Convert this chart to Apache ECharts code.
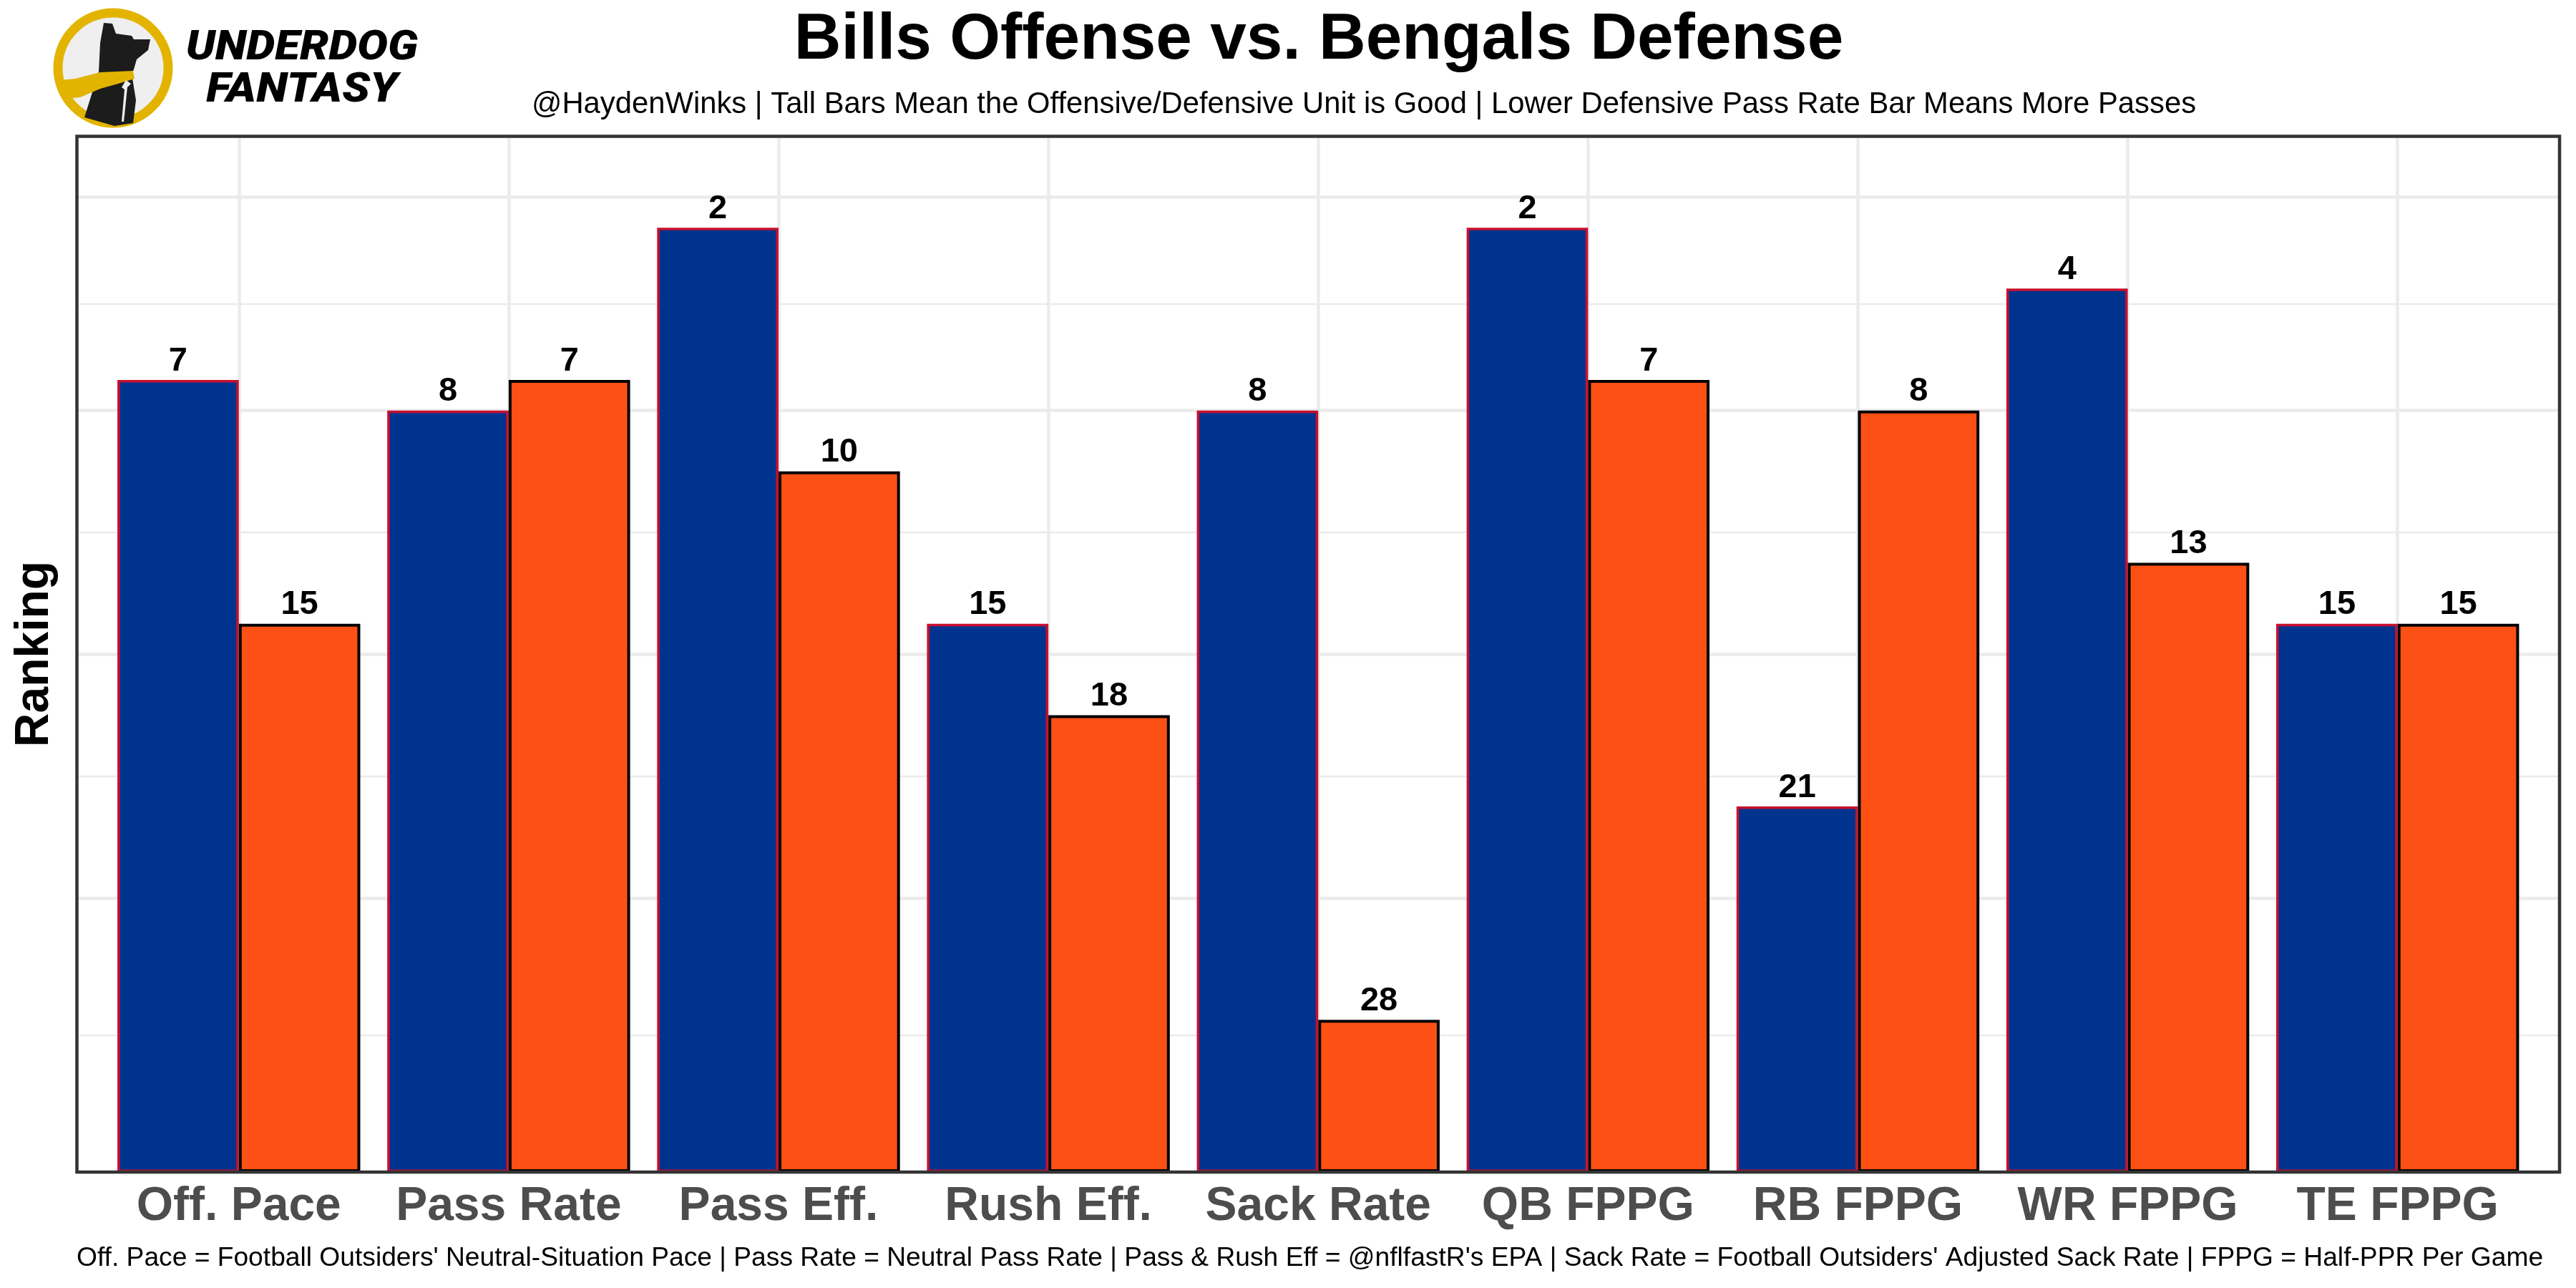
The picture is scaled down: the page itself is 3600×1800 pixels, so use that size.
<!DOCTYPE html>
<html>
<head>
<meta charset="utf-8">
<script src="https://cdn.jsdelivr.net/npm/echarts@6/dist/echarts.min.js"></script>
<style>
  html, body { margin: 0; padding: 0; background: #ffffff; }
  #chart { width: 3600px; height: 1800px; }
</style>
</head>
<body>
<div id="chart"></div>
<script>
// ---- data ----
const categories = ['Off. Pace', 'Pass Rate', 'Pass Eff.', 'Rush Eff.', 'Sack Rate', 'QB FPPG', 'RB FPPG', 'WR FPPG', 'TE FPPG'];
const offenseRank = [7, 8, 2, 15, 8, 2, 21, 4, 15];   // Bills offense
const defenseRank = [15, 7, 10, 18, 28, 7, 8, 13, 15]; // Bengals defense
const rankBase = 33;            // bar height = rankBase - rank (rank 1 = tallest)
const majorGridValues = [9, 17, 25, 32];
const minorGridValues = [4.5, 13, 21, 28.5];

const titleText = 'Bills Offense vs. Bengals Defense';
const subtitleText = '@HaydenWinks | Tall Bars Mean the Offensive/Defensive Unit is Good | Lower Defensive Pass Rate Bar Means More Passes';
const captionText = "Off. Pace = Football Outsiders' Neutral-Situation Pace | Pass Rate = Neutral Pass Rate | Pass & Rush Eff = @nflfastR's EPA | Sack Rate = Football Outsiders' Adjusted Sack Rate | FPPG = Half-PPR Per Game";
const yName = 'Ranking';

const FONT = "'Liberation Sans', Arial, Helvetica, sans-serif";

const chart = echarts.init(document.getElementById('chart'), null, { renderer: 'canvas' });

const plot = { left: 107.5, top: 190.5, right: 3577, bottom: 1638 };
const pad = 0.1; // extra category units each side
const nCat = categories.length;
const band = (plot.right - plot.left) / (nCat + 2 * pad);

const gridMarks = []
  .concat(majorGridValues.map(v => ({ yAxis: v, lineStyle: { width: 4.5 } })))
  .concat(minorGridValues.map(v => ({ yAxis: v, lineStyle: { width: 2.3 } })))
  .concat(categories.map((c, i) => ({ xAxis: i + 1, lineStyle: { width: 4.5 } })));

const barLabel = ranks => ({
  show: true, position: 'top', distance: 3, color: '#000', fontFamily: FONT, fontWeight: 'bold', fontSize: 47,
  formatter: p => String(ranks[p.dataIndex])
});

const option = {
  animation: false,
  backgroundColor: '#ffffff',
  grid: [
    { left: plot.left, top: plot.top, width: plot.right - plot.left, height: plot.bottom - plot.top, show: false },
    { left: plot.left + band * pad, top: plot.top, width: band * nCat, height: plot.bottom - plot.top, show: false }
  ],
  xAxis: [
    { type: 'value', gridIndex: 0, min: 1 - 0.5 - pad, max: nCat + 0.5 + pad, show: false },
    {
      type: 'category', gridIndex: 1, data: categories,
      axisLine: { show: false }, axisTick: { show: false }, splitLine: { show: false },
      axisLabel: { color: '#4D4D4D', fontFamily: FONT, fontWeight: 'bold', fontSize: 66, margin: 16, interval: 0 }
    }
  ],
  yAxis: [
    { type: 'value', gridIndex: 0, min: 0, max: 34, show: false },
    { type: 'value', gridIndex: 1, min: 0, max: 34, show: false }
  ],
  series: [
    {
      type: 'line', xAxisIndex: 0, yAxisIndex: 0, data: [], silent: true,
      markLine: {
        z: 1, silent: true, symbol: ['none', 'none'], label: { show: false }, animation: false,
        lineStyle: { color: '#EBEBEB', type: 'solid' },
        emphasis: { disabled: true },
        data: gridMarks
      }
    },
    {
      name: 'Bills Offense', type: 'bar', xAxisIndex: 1, yAxisIndex: 1, z: 3,
      barGap: '0%', barCategoryGap: '10%',
      data: offenseRank.map(r => rankBase - r),
      itemStyle: { color: '#00338D', borderColor: '#C8102E', borderWidth: 3.5 },
      label: barLabel(offenseRank)
    },
    {
      name: 'Bengals Defense', type: 'bar', xAxisIndex: 1, yAxisIndex: 1, z: 3,
      barGap: '0%', barCategoryGap: '10%',
      data: defenseRank.map(r => rankBase - r),
      itemStyle: { color: '#FC5015', borderColor: '#000000', borderWidth: 4 },
      label: barLabel(defenseRank)
    }
  ],
  graphic: [
    // panel border
    { type: 'rect', z: 100, silent: true,
      shape: { x: plot.left, y: plot.top, width: plot.right - plot.left, height: plot.bottom - plot.top },
      style: { fill: 'none', stroke: '#333333', lineWidth: 4.5 } },
    // title
    { type: 'text', z: 100, x: 1843, y: 57,
      style: { text: titleText, font: 'bold 91px ' + FONT, fill: '#000', align: 'center', verticalAlign: 'middle' } },
    // subtitle
    { type: 'text', z: 100, x: 1906, y: 146,
      style: { text: subtitleText, font: '41.8px ' + FONT, fill: '#000', align: 'center', verticalAlign: 'middle' } },
    // caption
    { type: 'text', z: 100, x: 107, y: 1759,
      style: { text: captionText, font: '37.2px ' + FONT, fill: '#000', align: 'left', verticalAlign: 'middle' } },
    // y axis name
    { type: 'text', z: 100, x: 49, y: 914, rotation: Math.PI / 2,
      style: { text: yName, font: 'bold 66px ' + FONT, fill: '#000', align: 'center', verticalAlign: 'middle' } },
    // logo: circle
    { type: 'circle', z: 100, shape: { cx: 158, cy: 95, r: 77 },
      style: { fill: '#EFEFEF', stroke: '#E2B400', lineWidth: 13 } },
    // dog silhouette
    { type: 'polygon', z: 101,
      shape: { points: [[145, 32], [157, 33], [162, 47], [184, 50], [187, 55], [210, 55], [207, 70], [191, 83], [187, 97], [184, 103], [190, 140], [186, 172], [160, 176], [118, 164], [138, 100], [140, 60]] },
      style: { fill: '#1C1C1C' } },
    // scarf
    { type: 'polygon', z: 102,
      shape: { points: [[84, 112], [105, 110], [140, 101], [186, 99], [188, 110], [165, 117], [140, 124], [112, 136], [90, 138]] },
      style: { fill: '#E2B400' } },
    // white bolt
    { type: 'polygon', z: 103,
      shape: { points: [[176, 112], [183, 117], [178, 122], [173, 170], [170, 170], [174, 125], [170, 122]] },
      style: { fill: '#EFEFEF' } },
    // logo text
    { type: 'text', z: 100, x: 422, y: 68, scaleX: 1.1,
      style: { text: 'UNDERDOG', font: 'italic 900 58px Roboto, ' + FONT, fill: '#000', align: 'center', verticalAlign: 'middle' } },
    { type: 'text', z: 100, x: 422, y: 127, scaleX: 1.1,
      style: { text: 'FANTASY', font: 'italic 900 58px Roboto, ' + FONT, fill: '#000', align: 'center', verticalAlign: 'middle' } }
  ]
};

chart.setOption(option);
</script>
</body>
</html>
